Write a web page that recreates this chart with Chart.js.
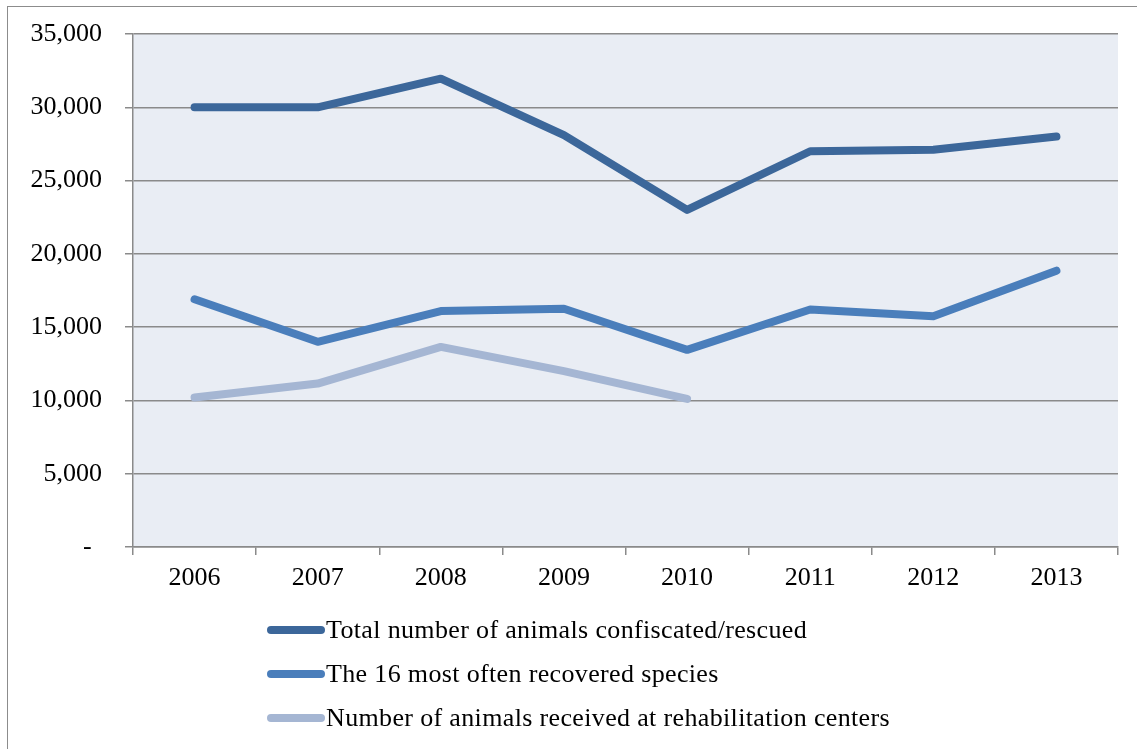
<!DOCTYPE html>
<html>
<head>
<meta charset="utf-8">
<script src="https://cdn.jsdelivr.net/npm/chart.js@4"></script>
<style>
  html, body { margin: 0; padding: 0; background: #fff; }
  #wrap { position: relative; width: 1137px; height: 749px; overflow: hidden; }
  #frame { position: absolute; left: 7px; top: 6px; width: 1200px; height: 800px;
           border-top: 1.5px solid #8c8c8c; border-left: 1.5px solid #8c8c8c; box-sizing: border-box; }
  canvas { position: absolute; left: 0; top: 0; }
  #legend { position: absolute; left: 267px; top: 608px; font-family: "Liberation Serif", serif;
            font-size: 26px; letter-spacing: 0.35px; color: #000; }
  .row { display: flex; align-items: center; height: 44px; white-space: nowrap; }
  .swatch { display: inline-block; width: 58px; height: 8px; border-radius: 4px; margin-right: 1px; }
</style>
</head>
<body>
<div id="wrap">
  <div id="frame"></div>
  <canvas id="c" width="1137" height="749"></canvas>
  <div id="legend"></div>
</div>
<script>
const categories = ['2006', '2007', '2008', '2009', '2010', '2011', '2012', '2013'];
const totalConfiscated = [30000, 30000, 31950, 28100, 23000, 27000, 27100, 28000];
const topSpecies = [16900, 14000, 16100, 16250, 13450, 16200, 15750, 18850];
const rehabCenters = [10200, 11150, 13650, 12000, 10100, null, null, null];
const seriesNames = [
  'Total number of animals confiscated/rescued',
  'The 16 most often recovered species',
  'Number of animals received at rehabilitation centers'
];
const seriesColors = ['#3C679A', '#4A7EBB', '#A5B6D3'];
const yTickValues = [0, 5000, 10000, 15000, 20000, 25000, 30000, 35000];
const yTickLabels = ['-\u2009\u2009', '5,000', '10,000', '15,000', '20,000', '25,000', '30,000', '35,000'];

const seriesValues = [totalConfiscated, topSpecies, rehabCenters];
const FONT = { family: '"Liberation Serif", serif', size: 26 };
const GRID = '#8a8a8a';

const plotBg = {
  id: 'plotBg',
  beforeDraw(chart) {
    const { ctx, chartArea: a } = chart;
    ctx.save();
    ctx.fillStyle = '#E9EDF4';
    ctx.fillRect(a.left, a.top, a.right - a.left, a.bottom - a.top);
    ctx.restore();
  }
};

const chart = new Chart(document.getElementById('c'), {
  type: 'line',
  data: {
    labels: categories,
    datasets: seriesValues.map((vals, i) => ({
      label: seriesNames[i],
      data: vals,
      borderColor: seriesColors[i],
      backgroundColor: seriesColors[i],
      borderWidth: 8,
      borderCapStyle: 'round',
      borderJoinStyle: 'round',
      pointRadius: 0,
      pointHoverRadius: 0,
      tension: 0,
      fill: false,
      spanGaps: false
    }))
  },
  plugins: [plotBg],
  options: {
    responsive: false,
    animation: false,
    devicePixelRatio: 1,
    layout: { padding: { left: 0, top: 34, right: 19, bottom: 142 } },
    plugins: { legend: { display: false }, tooltip: { enabled: false } },
    scales: {
      x: {
        offset: true,
        afterFit(scale) { scale.height = 60; scale.paddingLeft = 0; scale.paddingRight = 0; },
        grid: { display: true, drawOnChartArea: false, drawTicks: true, tickLength: 8,
                offset: true, color: GRID, lineWidth: 1.5 },
        border: { display: true, color: GRID, width: 1.5 },
        ticks: { font: FONT, color: '#000', padding: 8, maxRotation: 0, autoSkip: false }
      },
      y: {
        min: 0,
        max: 35000,
        afterFit(scale) { scale.width = 133; scale.paddingTop = 0; scale.paddingBottom = 0; },
        afterBuildTicks(scale) { scale.ticks = yTickValues.map(v => ({ value: v })); },
        grid: { color: GRID, lineWidth: 1.5, tickLength: 8, drawTicks: true },
        border: { display: true, color: GRID, width: 1.5 },
        ticks: {
          font: FONT, color: '#000', padding: 23,
          callback(value) { const i = yTickValues.indexOf(value); return i >= 0 ? yTickLabels[i] : ''; }
        }
      }
    }
  }
});

const legend = document.getElementById('legend');
chart.data.datasets.forEach(ds => {
  const row = document.createElement('div');
  row.className = 'row';
  const sw = document.createElement('span');
  sw.className = 'swatch';
  sw.style.background = ds.borderColor;
  const txt = document.createElement('span');
  txt.textContent = ds.label;
  row.appendChild(sw);
  row.appendChild(txt);
  legend.appendChild(row);
});
</script>
</body>
</html>
